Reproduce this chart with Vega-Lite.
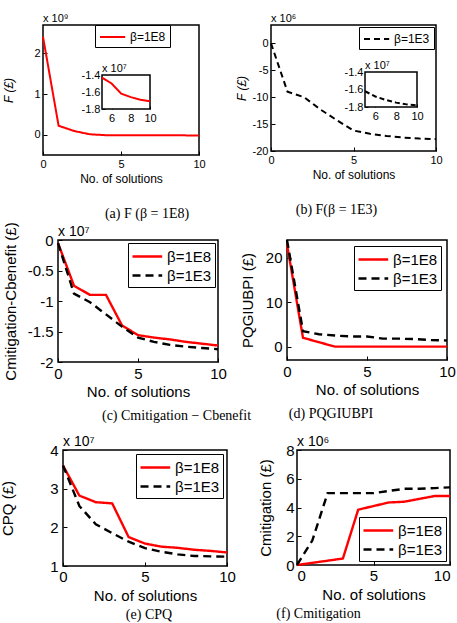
{
  "$schema": "https://vega.github.io/schema/vega-lite/v6.json",
  "padding": {"left": 0, "top": 12, "right": 0, "bottom": 0},
  "background": "white",
  "datasets": {
    "Fa": [
      {"n": 0, "beta": "β=1E8", "F": 2.41},
      {"n": 1, "beta": "β=1E8", "F": 0.22},
      {"n": 2, "beta": "β=1E8", "F": 0.09},
      {"n": 3, "beta": "β=1E8", "F": 0.01},
      {"n": 4, "beta": "β=1E8", "F": -0.012},
      {"n": 5, "beta": "β=1E8", "F": -0.0143},
      {"n": 6, "beta": "β=1E8", "F": -0.015},
      {"n": 7, "beta": "β=1E8", "F": -0.0162},
      {"n": 8, "beta": "β=1E8", "F": -0.0166},
      {"n": 9, "beta": "β=1E8", "F": -0.0169},
      {"n": 10, "beta": "β=1E8", "F": -0.0171}
    ],
    "Fa7": [
      {"n": 5, "F": -1.43},
      {"n": 6, "F": -1.5},
      {"n": 7, "F": -1.62},
      {"n": 8, "F": -1.66},
      {"n": 9, "F": -1.69},
      {"n": 10, "F": -1.71}
    ],
    "Fb": [
      {"n": 0, "beta": "β=1E3", "F": 0},
      {"n": 1, "beta": "β=1E3", "F": -9},
      {"n": 2, "beta": "β=1E3", "F": -10},
      {"n": 3, "beta": "β=1E3", "F": -12.3},
      {"n": 4, "beta": "β=1E3", "F": -14.3},
      {"n": 5, "beta": "β=1E3", "F": -16.2},
      {"n": 6, "beta": "β=1E3", "F": -16.8},
      {"n": 7, "beta": "β=1E3", "F": -17.2},
      {"n": 8, "beta": "β=1E3", "F": -17.5},
      {"n": 9, "beta": "β=1E3", "F": -17.7},
      {"n": 10, "beta": "β=1E3", "F": -17.8}
    ],
    "Fb7": [
      {"n": 5, "F": -1.62},
      {"n": 6, "F": -1.68},
      {"n": 7, "F": -1.72},
      {"n": 8, "F": -1.75},
      {"n": 9, "F": -1.77},
      {"n": 10, "F": -1.78}
    ],
    "D": [
      {"n": 0, "beta": "β=1E8", "v": -0.05},
      {"n": 1, "beta": "β=1E8", "v": -0.75},
      {"n": 2, "beta": "β=1E8", "v": -0.9},
      {"n": 3, "beta": "β=1E8", "v": -0.9},
      {"n": 4, "beta": "β=1E8", "v": -1.4},
      {"n": 5, "beta": "β=1E8", "v": -1.56},
      {"n": 6, "beta": "β=1E8", "v": -1.6},
      {"n": 7, "beta": "β=1E8", "v": -1.63},
      {"n": 8, "beta": "β=1E8", "v": -1.67},
      {"n": 9, "beta": "β=1E8", "v": -1.7},
      {"n": 10, "beta": "β=1E8", "v": -1.73},
      {"n": 0, "beta": "β=1E3", "v": -0.05},
      {"n": 1, "beta": "β=1E3", "v": -0.88},
      {"n": 2, "beta": "β=1E3", "v": -1.02},
      {"n": 3, "beta": "β=1E3", "v": -1.22},
      {"n": 4, "beta": "β=1E3", "v": -1.42},
      {"n": 5, "beta": "β=1E3", "v": -1.6},
      {"n": 6, "beta": "β=1E3", "v": -1.67},
      {"n": 7, "beta": "β=1E3", "v": -1.72},
      {"n": 8, "beta": "β=1E3", "v": -1.75},
      {"n": 9, "beta": "β=1E3", "v": -1.77},
      {"n": 10, "beta": "β=1E3", "v": -1.79}
    ],
    "P": [
      {"n": 0, "beta": "β=1E8", "v": 23},
      {"n": 1, "beta": "β=1E8", "v": 2},
      {"n": 2, "beta": "β=1E8", "v": 1},
      {"n": 3, "beta": "β=1E8", "v": 0},
      {"n": 4, "beta": "β=1E8", "v": 0},
      {"n": 5, "beta": "β=1E8", "v": 0},
      {"n": 6, "beta": "β=1E8", "v": 0},
      {"n": 7, "beta": "β=1E8", "v": 0},
      {"n": 8, "beta": "β=1E8", "v": 0},
      {"n": 9, "beta": "β=1E8", "v": 0},
      {"n": 10, "beta": "β=1E8", "v": 0},
      {"n": 0, "beta": "β=1E3", "v": 24},
      {"n": 1, "beta": "β=1E3", "v": 3.5},
      {"n": 2, "beta": "β=1E3", "v": 2.8},
      {"n": 3, "beta": "β=1E3", "v": 2.5},
      {"n": 4, "beta": "β=1E3", "v": 2.3},
      {"n": 5, "beta": "β=1E3", "v": 2.3},
      {"n": 6, "beta": "β=1E3", "v": 1.8},
      {"n": 7, "beta": "β=1E3", "v": 1.8},
      {"n": 8, "beta": "β=1E3", "v": 1.7},
      {"n": 9, "beta": "β=1E3", "v": 1.5},
      {"n": 10, "beta": "β=1E3", "v": 1.4}
    ],
    "Q": [
      {"n": 0, "beta": "β=1E8", "v": 3.6},
      {"n": 1, "beta": "β=1E8", "v": 2.82},
      {"n": 2, "beta": "β=1E8", "v": 2.65},
      {"n": 3, "beta": "β=1E8", "v": 2.62},
      {"n": 4, "beta": "β=1E8", "v": 1.75},
      {"n": 5, "beta": "β=1E8", "v": 1.58},
      {"n": 6, "beta": "β=1E8", "v": 1.5},
      {"n": 7, "beta": "β=1E8", "v": 1.47},
      {"n": 8, "beta": "β=1E8", "v": 1.42},
      {"n": 9, "beta": "β=1E8", "v": 1.39},
      {"n": 10, "beta": "β=1E8", "v": 1.35},
      {"n": 0, "beta": "β=1E3", "v": 3.6},
      {"n": 1, "beta": "β=1E3", "v": 2.55},
      {"n": 2, "beta": "β=1E3", "v": 2.08},
      {"n": 3, "beta": "β=1E3", "v": 1.85},
      {"n": 4, "beta": "β=1E3", "v": 1.63},
      {"n": 5, "beta": "β=1E3", "v": 1.46},
      {"n": 6, "beta": "β=1E3", "v": 1.37},
      {"n": 7, "beta": "β=1E3", "v": 1.3},
      {"n": 8, "beta": "β=1E3", "v": 1.26},
      {"n": 9, "beta": "β=1E3", "v": 1.25},
      {"n": 10, "beta": "β=1E3", "v": 1.24}
    ],
    "M": [
      {"n": 0, "beta": "β=1E8", "v": 0},
      {"n": 1, "beta": "β=1E8", "v": 0.15},
      {"n": 2, "beta": "β=1E8", "v": 0.3},
      {"n": 3, "beta": "β=1E8", "v": 0.45},
      {"n": 4, "beta": "β=1E8", "v": 3.85},
      {"n": 5, "beta": "β=1E8", "v": 4.1},
      {"n": 6, "beta": "β=1E8", "v": 4.35},
      {"n": 7, "beta": "β=1E8", "v": 4.4},
      {"n": 8, "beta": "β=1E8", "v": 4.6},
      {"n": 9, "beta": "β=1E8", "v": 4.8},
      {"n": 10, "beta": "β=1E8", "v": 4.8},
      {"n": 0, "beta": "β=1E3", "v": 0},
      {"n": 1, "beta": "β=1E3", "v": 1.7},
      {"n": 2, "beta": "β=1E3", "v": 5},
      {"n": 3, "beta": "β=1E3", "v": 5},
      {"n": 4, "beta": "β=1E3", "v": 5},
      {"n": 5, "beta": "β=1E3", "v": 5},
      {"n": 6, "beta": "β=1E3", "v": 5.15},
      {"n": 7, "beta": "β=1E3", "v": 5.3},
      {"n": 8, "beta": "β=1E3", "v": 5.3},
      {"n": 9, "beta": "β=1E3", "v": 5.35},
      {"n": 10, "beta": "β=1E3", "v": 5.4}
    ]
  },
  "columns": 1,
  "align": "none",
  "spacing": 11,
  "resolve": {"scale": {"color": "independent", "strokeDash": "independent"}},
  "concat": [
    {
      "columns": 1,
      "align": "none",
      "spacing": -1,
      "resolve": {"scale": {"color": "independent", "strokeDash": "independent"}},
      "concat": [
        {
          "spacing": 72,
          "bounds": "flush",
          "resolve": {"scale": {"color": "independent", "strokeDash": "independent"}},
          "hconcat": [
            {
              "width": 156, "height": 130,
              "title": {"text": "(a)  F (β = 1E8)", "orient": "bottom", "fontSize": 14, "offset": 23, "dx": 26},
              "resolve": {"scale": {"x": "independent", "y": "independent"}, "axis": {"x": "independent", "y": "independent"}},
              "layer": [
                {
                  "data": {"name": "Fa"},
                  "layer": [
                    {
                      "mark": {"type": "line", "strokeWidth": 2},
                      "encoding": {
                        "x": {"field": "n", "type": "quantitative", "scale": {"domain": [0, 10], "nice": false}, "axis": {"values": [0, 5, 10], "tickCount": 20, "format": ".2~f", "title": "No. of solutions", "labelFontSize": 11, "titleFontSize": 12, "labelPadding": 7, "titlePadding": 4}},
                        "y": {"field": "F", "type": "quantitative", "scale": {"domain": [-0.5, 2.7], "nice": false, "zero": false}, "axis": {"values": [0, 1, 2], "tickCount": 20, "format": ".2~f", "title": "F (£)", "titleFontStyle": "italic", "labelFontSize": 11, "titleFontSize": 12, "labelPadding": 7, "titlePadding": 18}},
                        "color": {"field": "beta", "type": "nominal", "scale": {"domain": ["β=1E8"], "range": ["#ff0000"]}, "legend": {"title": null, "orient": "none", "legendX": 52, "legendY": 0, "symbolType": "M-1,0L2.6,0", "symbolSize": 196, "symbolStrokeWidth": 2, "labelFontSize": 12, "strokeColor": "#000", "fillColor": "#fff", "padding": 4, "labelOffset": 15}},
                        "strokeDash": {"field": "beta", "type": "nominal", "scale": {"domain": ["β=1E8"], "range": [[1, 0]]}, "legend": {"title": null, "orient": "none", "legendX": 52, "legendY": 0, "symbolType": "M-1,0L2.6,0", "symbolSize": 196, "symbolStrokeWidth": 2, "labelFontSize": 12, "strokeColor": "#000", "fillColor": "#fff", "padding": 4, "labelOffset": 15}}
                      }
                    },
                    {
                      "transform": [{"filter": "datum.n == 0"}],
                      "mark": {"type": "text", "text": "x 10⁹", "align": "left", "baseline": "bottom", "dy": -1, "fontSize": 11, "color": "#000"},
                      "encoding": {"x": {"field": "n", "type": "quantitative"}, "y": {"datum": 2.7, "type": "quantitative"}}
                    }
                  ]
                },
                {
                  "data": {"name": "Fa7"},
                  "layer": [
                    {
                      "transform": [{"filter": "datum.n == 10"}],
                      "mark": {"type": "rect", "fill": "#fff", "stroke": "#000", "strokeWidth": 1.5},
                      "encoding": {"x": {"datum": 5, "type": "quantitative"}, "x2": {"datum": 10}, "y": {"datum": -1.8, "type": "quantitative"}, "y2": {"datum": -1.4}}
                    },
                    {
                      "mark": {"type": "line", "color": "#ff0000", "strokeWidth": 2},
                      "encoding": {
                        "x": {"field": "n", "type": "quantitative", "scale": {"domain": [5, 10], "range": [59, 107], "nice": false, "zero": false}, "axis": {"orient": "bottom", "offset": -46, "values": [6, 8, 10], "tickCount": 20, "format": ".2~f", "title": null, "labelFontSize": 11, "labelPadding": 6, "tickSize": -3}},
                        "y": {"field": "F", "type": "quantitative", "scale": {"domain": [-1.8, -1.4], "range": [84, 50], "nice": false, "zero": false}, "axis": {"orient": "left", "offset": -59, "values": [-1.8, -1.6, -1.4], "tickCount": 20, "format": ".1f", "title": null, "labelFontSize": 11, "labelPadding": 5, "tickSize": -3}}
                      }
                    },
                    {
                      "transform": [{"filter": "datum.n == 5"}],
                      "mark": {"type": "text", "text": "x 10⁷", "align": "left", "baseline": "bottom", "dy": -1, "fontSize": 11, "color": "#000"},
                      "encoding": {"x": {"field": "n", "type": "quantitative"}, "y": {"datum": -1.4, "type": "quantitative"}}
                    }
                  ]
                }
              ]
            },
            {
              "width": 165, "height": 126,
              "title": {"text": "(b) F(β = 1E3)", "orient": "bottom", "fontSize": 14, "offset": 23, "dx": -17},
              "resolve": {"scale": {"x": "independent", "y": "independent"}, "axis": {"x": "independent", "y": "independent"}},
              "layer": [
                {
                  "data": {"name": "Fb"},
                  "layer": [
                    {
                      "mark": {"type": "line", "strokeWidth": 2},
                      "encoding": {
                        "x": {"field": "n", "type": "quantitative", "scale": {"domain": [0, 10], "nice": false}, "axis": {"values": [0, 5, 10], "tickCount": 20, "format": ".2~f", "title": "No. of solutions", "labelFontSize": 11, "titleFontSize": 12, "labelPadding": 7, "titlePadding": 4}},
                        "y": {"field": "F", "type": "quantitative", "scale": {"domain": [-20, 3.4], "nice": false, "zero": false}, "axis": {"values": [-20, -15, -10, -5, 0], "tickCount": 20, "format": ".2~f", "title": "F (£)", "titleFontStyle": "italic", "labelFontSize": 11, "titleFontSize": 12, "labelPadding": 7, "titlePadding": 4}},
                        "color": {"field": "beta", "type": "nominal", "scale": {"domain": ["β=1E3"], "range": ["#000000"]}, "legend": {"title": null, "orient": "top-right", "offset": 2, "symbolType": "M-1,0L2.6,0", "symbolSize": 196, "symbolStrokeWidth": 2, "labelFontSize": 12, "strokeColor": "#000", "fillColor": "#fff", "padding": 4, "labelOffset": 15}},
                        "strokeDash": {"field": "beta", "type": "nominal", "scale": {"domain": ["β=1E3"], "range": [[6, 4]]}, "legend": {"title": null, "orient": "top-right", "offset": 2, "symbolType": "M-1,0L2.6,0", "symbolSize": 196, "symbolStrokeWidth": 2, "labelFontSize": 12, "strokeColor": "#000", "fillColor": "#fff", "padding": 4, "labelOffset": 15}}
                      }
                    },
                    {
                      "transform": [{"filter": "datum.n == 0"}],
                      "mark": {"type": "text", "text": "x 10⁶", "align": "left", "baseline": "bottom", "dy": -1, "fontSize": 11, "color": "#000"},
                      "encoding": {"x": {"field": "n", "type": "quantitative"}, "y": {"datum": 3.4, "type": "quantitative"}}
                    }
                  ]
                },
                {
                  "data": {"name": "Fb7"},
                  "layer": [
                    {
                      "transform": [{"filter": "datum.n == 10"}],
                      "mark": {"type": "rect", "fill": "#fff", "stroke": "#000", "strokeWidth": 1.5},
                      "encoding": {"x": {"datum": 5, "type": "quantitative"}, "x2": {"datum": 10}, "y": {"datum": -1.8, "type": "quantitative"}, "y2": {"datum": -1.4}}
                    },
                    {
                      "mark": {"type": "line", "color": "#000000", "strokeWidth": 2, "strokeDash": [5, 3]},
                      "encoding": {
                        "x": {"field": "n", "type": "quantitative", "scale": {"domain": [5, 10], "range": [94, 146], "nice": false, "zero": false}, "axis": {"orient": "bottom", "offset": -44, "values": [6, 8, 10], "tickCount": 20, "format": ".2~f", "title": null, "labelFontSize": 11, "labelPadding": 6, "tickSize": -3}},
                        "y": {"field": "F", "type": "quantitative", "scale": {"domain": [-1.8, -1.4], "range": [82, 47], "nice": false, "zero": false}, "axis": {"orient": "left", "offset": -94, "values": [-1.8, -1.6, -1.4], "tickCount": 20, "format": ".1f", "title": null, "labelFontSize": 11, "labelPadding": 5, "tickSize": -3}}
                      }
                    },
                    {
                      "transform": [{"filter": "datum.n == 5"}],
                      "mark": {"type": "text", "text": "x 10⁷", "align": "left", "baseline": "bottom", "dy": -1, "fontSize": 11, "color": "#000"},
                      "encoding": {"x": {"field": "n", "type": "quantitative"}, "y": {"datum": -1.4, "type": "quantitative"}}
                    }
                  ]
                }
              ]
            }
          ]
        },
        {
          "spacing": 69,
          "bounds": "flush",
          "resolve": {"scale": {"color": "independent", "strokeDash": "independent"}},
          "hconcat": [
            {
              "width": 175, "height": 122,
              "view": {"stroke": null},
              "title": {"text": "(c) Cmitigation − Cbenefit", "orient": "bottom", "fontSize": 14, "offset": 10, "dx": 46},
              "data": {"name": "D"},
              "layer": [
                {
                  "transform": [{"filter": "datum.n == 0 && datum.beta == 'β=1E8'"}],
                  "mark": {"type": "rect", "fill": "#fff", "fillOpacity": 0, "stroke": "#000", "strokeWidth": 1.5},
                  "encoding": {"x": {"datum": 0, "type": "quantitative"}, "x2": {"datum": 10}, "y": {"datum": -2, "type": "quantitative"}, "y2": {"datum": 0}}
                },
                {
                  "mark": {"type": "line", "strokeWidth": 2.4},
                  "encoding": {
                    "x": {"field": "n", "type": "quantitative", "scale": {"domain": [0, 10], "range": [15, 175], "nice": false}, "axis": {"values": [0, 5, 10], "tickCount": 20, "format": ".2~f", "title": "No. of solutions", "labelFontSize": 15, "titleFontSize": 15, "labelPadding": 8, "titlePadding": 3}},
                    "y": {"field": "v", "type": "quantitative", "scale": {"domain": [-2, 0], "nice": false, "zero": false}, "axis": {"values": [-2, -1.5, -1, -0.5, 0], "tickCount": 20, "format": ".2~f", "title": "Cmitigation-Cbenefit (£)", "labelFontSize": 15, "titleFontSize": 15, "labelPadding": 9, "titlePadding": 9, "offset": -15}},
                    "color": {"field": "beta", "type": "nominal", "scale": {"domain": ["β=1E8", "β=1E3"], "range": ["#ff0000", "#000000"]}, "legend": {"title": null, "orient": "top-right", "offset": 3, "symbolType": "M-1,0L2.3,0", "symbolSize": 324, "symbolStrokeWidth": 2.5, "labelFontSize": 15, "strokeColor": "#000", "fillColor": "#fff", "padding": 3, "rowPadding": 0, "labelOffset": 15}},
                    "strokeDash": {"field": "beta", "type": "nominal", "scale": {"domain": ["β=1E8", "β=1E3"], "range": [[1, 0], [8, 5]]}, "legend": {"title": null, "orient": "top-right", "offset": 3, "symbolType": "M-1,0L2.3,0", "symbolSize": 324, "symbolStrokeWidth": 2.5, "labelFontSize": 15, "strokeColor": "#000", "fillColor": "#fff", "padding": 3, "rowPadding": 0, "labelOffset": 15}}
                  }
                },
                {
                  "transform": [{"filter": "datum.n == 0 && datum.beta == 'β=1E8'"}],
                  "mark": {"type": "text", "text": "x 10⁷", "align": "left", "baseline": "bottom", "dy": -1, "fontSize": 14, "color": "#000"},
                  "encoding": {"x": {"field": "n", "type": "quantitative"}, "y": {"datum": 0, "type": "quantitative"}}
                }
              ]
            },
            {
              "width": 160, "height": 120,
              "title": {"text": "(d) PQGIUBPI", "orient": "bottom", "fontSize": 14, "offset": 10, "dx": -36},
              "data": {"name": "P"},
              "layer": [
                {
                  "mark": {"type": "line", "strokeWidth": 2.4},
                  "encoding": {
                    "x": {"field": "n", "type": "quantitative", "scale": {"domain": [0, 10], "nice": false}, "axis": {"values": [0, 5, 10], "tickCount": 20, "format": ".2~f", "title": "No. of solutions", "labelFontSize": 15, "titleFontSize": 15, "labelPadding": 8, "titlePadding": 3}},
                    "y": {"field": "v", "type": "quantitative", "scale": {"domain": [-3, 24], "nice": false, "zero": false}, "axis": {"values": [0, 10, 20], "tickCount": 20, "format": ".2~f", "title": "PQGIUBPI (£)", "labelFontSize": 15, "titleFontSize": 15, "labelPadding": 9, "titlePadding": 10}},
                    "color": {"field": "beta", "type": "nominal", "scale": {"domain": ["β=1E8", "β=1E3"], "range": ["#ff0000", "#000000"]}, "legend": {"title": null, "orient": "top-right", "offset": 6, "symbolType": "M-1,0L2.3,0", "symbolSize": 324, "symbolStrokeWidth": 2.5, "labelFontSize": 15, "strokeColor": "#000", "fillColor": "#fff", "padding": 3, "rowPadding": 0, "labelOffset": 15}},
                    "strokeDash": {"field": "beta", "type": "nominal", "scale": {"domain": ["β=1E8", "β=1E3"], "range": [[1, 0], [8, 5]]}, "legend": {"title": null, "orient": "top-right", "offset": 6, "symbolType": "M-1,0L2.3,0", "symbolSize": 324, "symbolStrokeWidth": 2.5, "labelFontSize": 15, "strokeColor": "#000", "fillColor": "#fff", "padding": 3, "rowPadding": 0, "labelOffset": 15}}
                  }
                }
              ]
            }
          ]
        }
      ]
    },
    {
      "spacing": 70,
      "bounds": "flush",
      "resolve": {"scale": {"color": "independent", "strokeDash": "independent"}},
      "hconcat": [
        {
          "width": 184, "height": 116,
          "view": {"stroke": null},
          "title": {"text": "(e) CPQ", "orient": "bottom", "fontSize": 14, "offset": 5, "dx": 14},
          "data": {"name": "Q"},
          "layer": [
            {
              "transform": [{"filter": "datum.n == 0 && datum.beta == 'β=1E8'"}],
              "mark": {"type": "rect", "fill": "#fff", "fillOpacity": 0, "stroke": "#000", "strokeWidth": 1.5},
              "encoding": {"x": {"datum": 0, "type": "quantitative"}, "x2": {"datum": 10}, "y": {"datum": 1, "type": "quantitative"}, "y2": {"datum": 4}}
            },
            {
              "mark": {"type": "line", "strokeWidth": 2.4},
              "encoding": {
                "x": {"field": "n", "type": "quantitative", "scale": {"domain": [0, 10], "range": [20, 184], "nice": false}, "axis": {"values": [0, 5, 10], "tickCount": 20, "format": ".2~f", "title": "No. of solutions", "labelFontSize": 15, "titleFontSize": 15, "labelPadding": 7, "titlePadding": 4}},
                "y": {"field": "v", "type": "quantitative", "scale": {"domain": [1, 4], "nice": false, "zero": false}, "axis": {"values": [1, 2, 3, 4], "tickCount": 20, "format": ".2~f", "title": "CPQ (£)", "labelFontSize": 15, "titleFontSize": 15, "labelPadding": 9, "titlePadding": 34, "offset": -20}},
                "color": {"field": "beta", "type": "nominal", "scale": {"domain": ["β=1E8", "β=1E3"], "range": ["#ff0000", "#000000"]}, "legend": {"title": null, "orient": "top-right", "offset": 4, "symbolType": "M-1,0L2.3,0", "symbolSize": 324, "symbolStrokeWidth": 2.5, "labelFontSize": 15, "strokeColor": "#000", "fillColor": "#fff", "padding": 3, "rowPadding": 0, "labelOffset": 15}},
                "strokeDash": {"field": "beta", "type": "nominal", "scale": {"domain": ["β=1E8", "β=1E3"], "range": [[1, 0], [8, 5]]}, "legend": {"title": null, "orient": "top-right", "offset": 4, "symbolType": "M-1,0L2.3,0", "symbolSize": 324, "symbolStrokeWidth": 2.5, "labelFontSize": 15, "strokeColor": "#000", "fillColor": "#fff", "padding": 3, "rowPadding": 0, "labelOffset": 15}}
              }
            },
            {
              "transform": [{"filter": "datum.n == 0 && datum.beta == 'β=1E8'"}],
              "mark": {"type": "text", "text": "x 10⁷", "align": "left", "baseline": "bottom", "dy": -1, "fontSize": 14, "color": "#000"},
              "encoding": {"x": {"field": "n", "type": "quantitative"}, "y": {"datum": 4, "type": "quantitative"}}
            }
          ]
        },
        {
          "width": 153, "height": 115,
          "title": {"text": "(f)  Cmitigation", "orient": "bottom", "fontSize": 14, "offset": 5, "dx": -55},
          "data": {"name": "M"},
          "layer": [
            {
              "mark": {"type": "line", "strokeWidth": 2.4},
              "encoding": {
                "x": {"field": "n", "type": "quantitative", "scale": {"domain": [0, 10], "nice": false}, "axis": {"values": [0, 5, 10], "tickCount": 20, "format": ".2~f", "labelFlush": true, "title": "No. of solutions", "labelFontSize": 15, "titleFontSize": 15, "labelPadding": 7, "titlePadding": 4}},
                "y": {"field": "v", "type": "quantitative", "scale": {"domain": [0, 8], "nice": false, "zero": false}, "axis": {"values": [0, 2, 4, 6, 8], "tickCount": 20, "format": ".2~f", "title": "Cmitigation (£)", "labelFontSize": 15, "titleFontSize": 15, "labelPadding": 7, "titlePadding": 12}},
                "color": {"field": "beta", "type": "nominal", "scale": {"domain": ["β=1E8", "β=1E3"], "range": ["#ff0000", "#000000"]}, "legend": {"title": null, "orient": "bottom-right", "offset": 4, "symbolType": "M-1,0L2.3,0", "symbolSize": 324, "symbolStrokeWidth": 2.5, "labelFontSize": 15, "strokeColor": "#000", "fillColor": "#fff", "padding": 3, "rowPadding": 0, "labelOffset": 15}},
                "strokeDash": {"field": "beta", "type": "nominal", "scale": {"domain": ["β=1E8", "β=1E3"], "range": [[1, 0], [8, 5]]}, "legend": {"title": null, "orient": "bottom-right", "offset": 4, "symbolType": "M-1,0L2.3,0", "symbolSize": 324, "symbolStrokeWidth": 2.5, "labelFontSize": 15, "strokeColor": "#000", "fillColor": "#fff", "padding": 3, "rowPadding": 0, "labelOffset": 15}}
              }
            },
            {
              "transform": [{"filter": "datum.n == 0 && datum.beta == 'β=1E8'"}],
              "mark": {"type": "text", "text": "x 10⁶", "align": "left", "baseline": "bottom", "dy": -1, "fontSize": 14, "color": "#000"},
              "encoding": {"x": {"field": "n", "type": "quantitative"}, "y": {"datum": 8, "type": "quantitative"}}
            }
          ]
        }
      ]
    }
  ],
  "config": {
    "locale": {"number": {"decimal": ".", "thousands": ",", "grouping": [3], "currency": ["$", ""], "minus": "-"}},
    "view": {"stroke": "#000", "strokeWidth": 1.5},
    "font": "Liberation Sans",
    "axis": {"grid": false, "domain": false, "ticks": true, "tickSize": -4, "tickColor": "#000", "tickWidth": 1, "labelColor": "#000", "titleColor": "#000", "labelFont": "Liberation Sans", "titleFont": "Liberation Sans", "titleFontWeight": "normal", "labelOverlap": false, "labelFlush": false, "zindex": 1},
    "legend": {"labelFont": "Liberation Sans", "labelColor": "#000"},
    "title": {"font": "Liberation Serif", "fontWeight": "normal", "color": "#000"},
    "text": {"font": "Liberation Sans"}
  }
}
